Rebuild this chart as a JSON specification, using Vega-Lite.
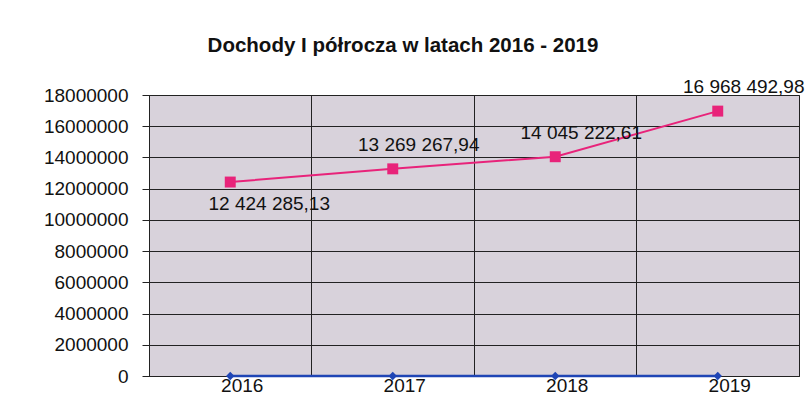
{
  "$schema": "https://vega.github.io/schema/vega-lite/v6.json",
  "autosize": "none",
  "width": 650,
  "height": 281,
  "padding": {"left": 149, "top": 95, "right": 7, "bottom": 25},
  "background": "white",
  "title": {
    "text": "Dochody I półrocza w latach 2016 - 2019",
    "font": "Liberation Sans",
    "fontSize": 20.5,
    "fontWeight": "bold",
    "color": "#111111",
    "anchor": "middle",
    "dx": -71,
    "offset": 22
  },
  "config": {
    "view": {"fill": "#d8d2db", "stroke": "#222222", "strokeWidth": 1},
    "font": "Liberation Sans"
  },
  "data": {
    "values": [
      {"rok": "2016", "seria": "Dochody", "wartosc": 12424285.13, "etykieta": "12 424 285,13", "pos": "below"},
      {"rok": "2017", "seria": "Dochody", "wartosc": 13269267.94, "etykieta": "13 269 267,94", "pos": "above"},
      {"rok": "2018", "seria": "Dochody", "wartosc": 14045222.61, "etykieta": "14 045 222,61", "pos": "above"},
      {"rok": "2019", "seria": "Dochody", "wartosc": 16968492.98, "etykieta": "16 968 492,98", "pos": "above"},
      {"rok": "2016", "seria": "Inne", "wartosc": 0, "etykieta": "", "pos": "none"},
      {"rok": "2017", "seria": "Inne", "wartosc": 0, "etykieta": "", "pos": "none"},
      {"rok": "2018", "seria": "Inne", "wartosc": 0, "etykieta": "", "pos": "none"},
      {"rok": "2019", "seria": "Inne", "wartosc": 0, "etykieta": "", "pos": "none"}
    ]
  },
  "encoding": {
    "x": {
      "field": "rok",
      "type": "ordinal",
      "scale": {"type": "band", "paddingInner": 0, "paddingOuter": 0},
      "axis": {
        "title": null,
        "labelAngle": 0,
        "labelFont": "Liberation Sans",
        "labelFontSize": 19,
        "labelColor": "#111111",
        "labelOffset": 12,
        "labelPadding": 0,
        "ticks": false,
        "grid": true,
        "bandPosition": 0,
        "gridColor": "#222222",
        "gridWidth": 1,
        "gridOpacity": 1,
        "domainColor": "#222222"
      }
    },
    "y": {
      "field": "wartosc",
      "type": "quantitative",
      "scale": {"domain": [0, 18000000], "nice": false},
      "axis": {
        "title": null,
        "values": [0, 2000000, 4000000, 6000000, 8000000, 10000000, 12000000, 14000000, 16000000, 18000000],
        "format": "d",
        "labelFont": "Liberation Sans",
        "labelFontSize": 19,
        "labelColor": "#111111",
        "labelPadding": 14,
        "tickSize": 7,
        "tickColor": "#222222",
        "gridColor": "#222222",
        "gridWidth": 1,
        "gridOpacity": 1,
        "domainColor": "#222222"
      }
    }
  },
  "layer": [
    {
      "transform": [{"filter": "datum.seria == 'Dochody'"}],
      "mark": {"type": "line", "color": "#e8237a", "strokeWidth": 2}
    },
    {
      "transform": [{"filter": "datum.seria == 'Dochody'"}],
      "mark": {"type": "point", "shape": "square", "filled": true, "size": 120, "color": "#e8237a", "opacity": 1}
    },
    {
      "transform": [{"filter": "datum.seria == 'Inne'"}],
      "mark": {"type": "line", "color": "#1f45b5", "strokeWidth": 2.5}
    },
    {
      "transform": [{"filter": "datum.seria == 'Inne'"}],
      "mark": {"type": "point", "shape": "diamond", "filled": true, "size": 70, "color": "#1f45b5", "opacity": 1}
    },
    {
      "transform": [{"filter": "datum.pos == 'above'"}],
      "mark": {"type": "text", "font": "Liberation Sans", "fontSize": 19, "color": "#111111", "align": "center", "baseline": "middle", "dx": 26, "dy": -24},
      "encoding": {"text": {"field": "etykieta"}}
    },
    {
      "transform": [{"filter": "datum.pos == 'below'"}],
      "mark": {"type": "text", "font": "Liberation Sans", "fontSize": 19, "color": "#111111", "align": "center", "baseline": "middle", "dx": 39, "dy": 22},
      "encoding": {"text": {"field": "etykieta"}}
    }
  ]
}
